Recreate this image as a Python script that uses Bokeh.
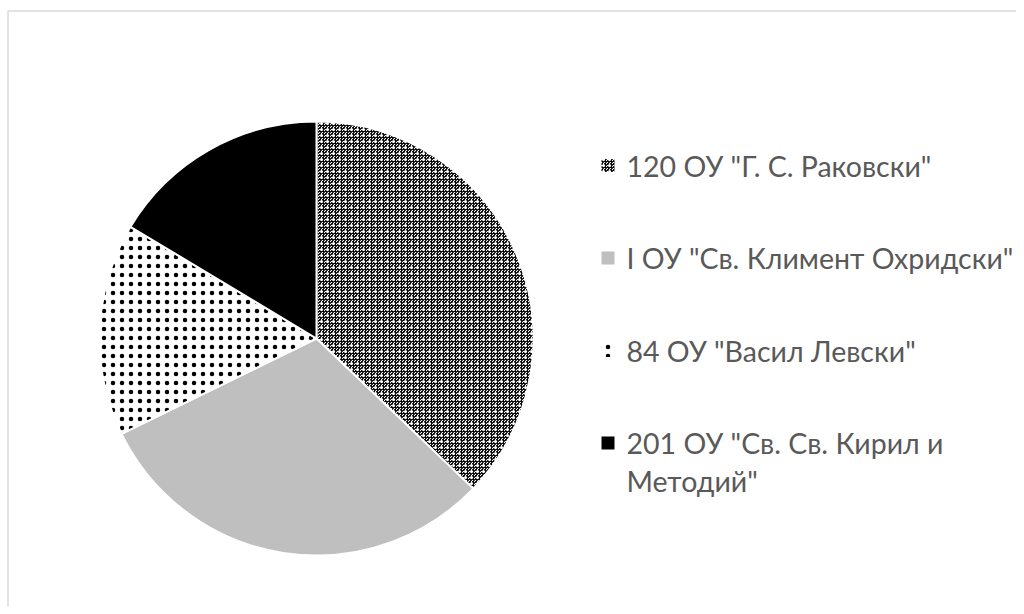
import math
from bokeh.plotting import figure
from bokeh.models import Range1d, ColumnDataSource
from bokeh.core.properties import value
from bokeh.embed import file_html
from bokeh.resources import INLINE

# ---- data ----
labels = [
    '120 ОУ "Г. С. Раковски"',
    'I ОУ "Св. Климент Охридски"',
    '84 ОУ "Васил Левски"',
    '201 ОУ "Св. Св. Кирил и\nМетодий"',
]
values = [68, 56, 29, 30]

# ---- layout constants ----
W, H = 1016, 606
CX, CY, R = 316, 268, 217          # pie centre / radius in pixel-like data units
LEG_X, LEG_Y0, LEG_DY = 607.5, 441, 92.5
TXT_X = 626
LINE_H = 37.5
FONT = "Lato"
FONT_SIZE = "28.5px"
TXT_COLOR = "#595959"

total = float(sum(values))
starts, ends = [], []
cum = 0.0
for v in values:
    starts.append(math.pi / 2 - 2 * math.pi * cum / total)
    cum += v
    ends.append(math.pi / 2 - 2 * math.pi * cum / total)

p = figure(width=W, height=H, output_backend="svg", toolbar_location=None,
           x_range=Range1d(0, W), y_range=Range1d(0, H), min_border=0,
           tools="")
p.axis.visible = False
p.grid.visible = False
p.outline_line_color = None
p.background_fill_color = "white"
p.border_fill_color = "white"

# chart area border (left + top edge visible)
p.segment(x0=[7.5, 7.5], y0=[0, 595.5], x1=[7.5, W], y1=[595.5, 595.5],
          line_color="#d9d9d9", line_width=1.5)

def sel(i):
    return dict(x=[CX], y=[CY], start=[starts[i]], end=[ends[i]])

PAT1 = dict(hatch_pattern="criss_cross", hatch_color="black", hatch_scale=3, hatch_weight=0.9)
PAT1B = dict(hatch_pattern="dot", hatch_color="white", hatch_scale=6, hatch_weight=2.5)
PAT3 = dict(hatch_pattern="dot", hatch_color="black", hatch_scale=9, hatch_weight=1.0)

# slice 1: dark dithered pattern
s = sel(0)
p.wedge(x=s["x"], y=s["y"], radius=R, start_angle=s["start"], end_angle=s["end"],
        direction="clock", fill_color="#ffffff", line_color=None, **PAT1)
p.wedge(x=s["x"], y=s["y"], radius=R, start_angle=s["start"], end_angle=s["end"],
        direction="clock", fill_alpha=0, line_color="white", line_width=2, **PAT1B)
# slice 2: gray
s = sel(1)
p.wedge(x=s["x"], y=s["y"], radius=R, start_angle=s["start"], end_angle=s["end"],
        direction="clock", fill_color="#bfbfbf", line_color="white", line_width=2)
# slice 3: dotted
s = sel(2)
p.wedge(x=s["x"], y=s["y"], radius=R, start_angle=s["start"], end_angle=s["end"],
        direction="clock", fill_color="white", line_color="white", line_width=2, **PAT3)
# slice 4: black
s = sel(3)
p.wedge(x=s["x"], y=s["y"], radius=R, start_angle=s["start"], end_angle=s["end"],
        direction="clock", fill_color="black", line_color="white", line_width=2)

# ---- legend ----
ly = [LEG_Y0 - i * LEG_DY for i in range(len(labels))]
mk = 13
p.scatter(x=[LEG_X], y=[ly[0]], marker="square", size=mk, fill_color="white", line_color=None, **PAT1)
p.scatter(x=[LEG_X], y=[ly[0]], marker="square", size=mk, fill_alpha=0, line_color=None, **PAT1B)
p.scatter(x=[LEG_X], y=[ly[1]], marker="square", size=mk, fill_color="#bfbfbf", line_color=None)
p.scatter(x=[LEG_X], y=[ly[2]], marker="square", size=mk, fill_color="white", line_color=None, **PAT3)
p.scatter(x=[LEG_X], y=[ly[3]], marker="square", size=mk, fill_color="black", line_color=None)

tx, ty, tt = [], [], []
for i, lab in enumerate(labels):
    for j, line in enumerate(lab.split("\n")):
        tx.append(TXT_X)
        ty.append(ly[i] - j * LINE_H)
        tt.append(line)
src = ColumnDataSource(dict(x=tx, y=ty, text=tt))
p.text(x="x", y="y", text="text", source=src, text_font=value(FONT),
       text_font_size=FONT_SIZE, text_color=TXT_COLOR, text_baseline="middle",
       text_align="left")

open("out.html", "w").write(file_html(p, INLINE))
